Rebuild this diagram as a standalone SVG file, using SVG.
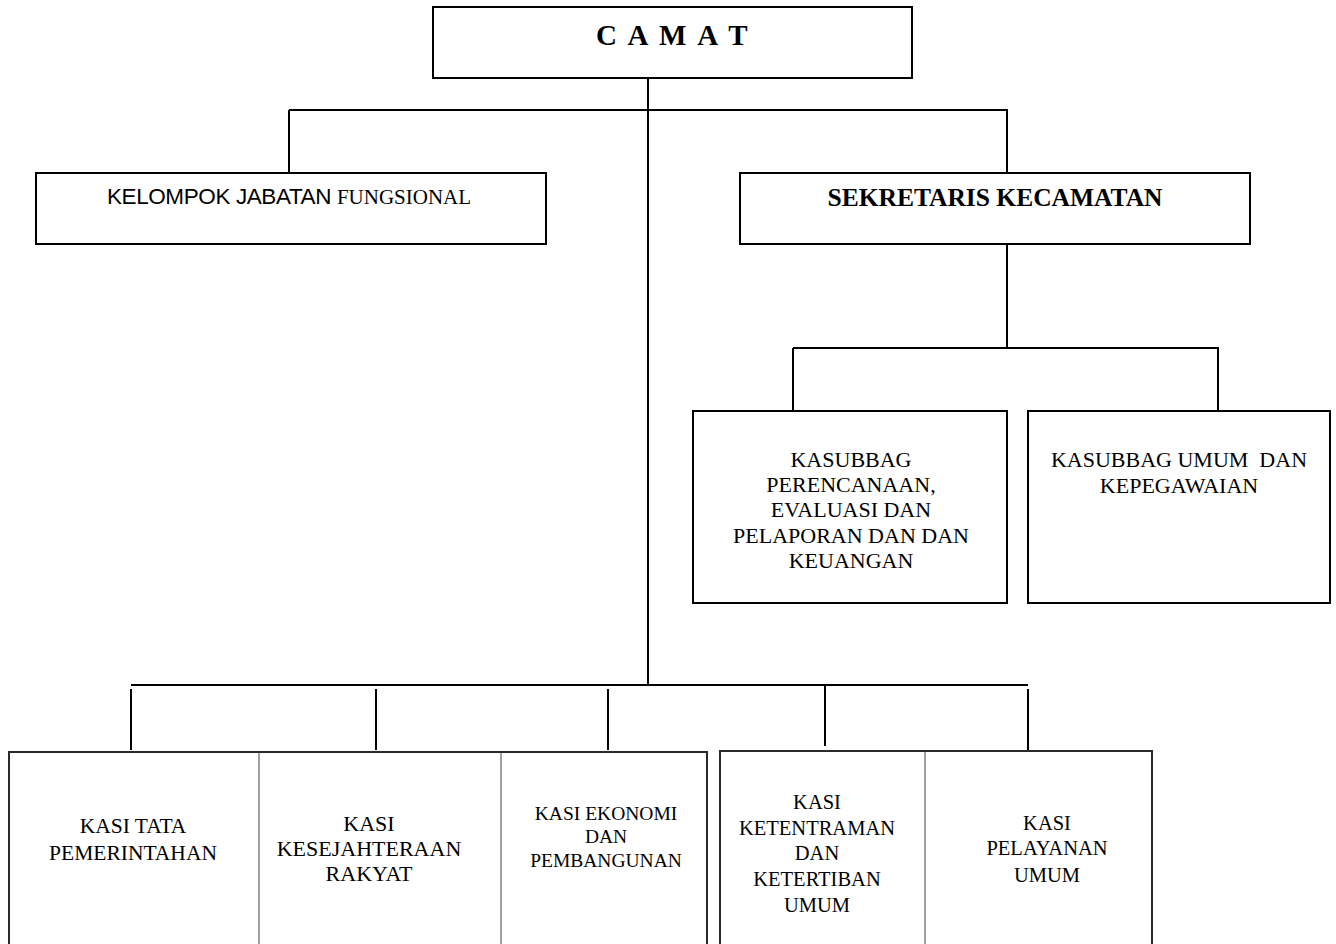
<svg xmlns="http://www.w3.org/2000/svg" width="1336" height="944" viewBox="0 0 1336 944">
<style>
.box{fill:#fff;stroke:#000;stroke-width:2}
.grp{fill:#fff;stroke:#2a2a2a;stroke-width:2}
.div{stroke:#808080;stroke-width:1.5}
.ln{stroke:#000;stroke-width:2;fill:none}
.s{font-family:"Liberation Serif","Times New Roman",serif;font-size:21px;fill:#000;text-anchor:middle}
</style>
<rect width="1336" height="944" fill="#fff"/>
<g id="connectors">
<line class="ln" x1="648" y1="78" x2="648" y2="686"/>
<line class="ln" x1="289" y1="110" x2="1008" y2="110"/>
<line class="ln" x1="289" y1="110" x2="289" y2="173"/>
<line class="ln" x1="1007" y1="110" x2="1007" y2="173"/>
<line class="ln" x1="1007" y1="244" x2="1007" y2="348"/>
<line class="ln" x1="793" y1="348" x2="1219" y2="348"/>
<line class="ln" x1="793" y1="348" x2="793" y2="411"/>
<line class="ln" x1="1218" y1="349" x2="1218" y2="411"/>
<line class="ln" x1="131" y1="685" x2="1028" y2="685"/>
<line class="ln" x1="131" y1="689" x2="131" y2="750"/>
<line class="ln" x1="376" y1="689" x2="376" y2="750"/>
<line class="ln" x1="608" y1="689" x2="608" y2="750"/>
<line class="ln" x1="825" y1="686" x2="825" y2="746"/>
<line class="ln" x1="1028" y1="689" x2="1028" y2="750"/>
</g>
<g id="camat">
<rect class="box" x="433" y="7" width="479" height="71"/>
<text x="673" y="45" font-family="Liberation Serif, serif" font-size="29" font-weight="bold" letter-spacing="2.5" text-anchor="middle">C A M A T</text>
</g>
<g id="kelompok">
<rect class="box" x="36" y="173" width="510" height="71"/>
<text x="289" y="204" text-anchor="middle"><tspan font-family="Liberation Sans, Arial, sans-serif" font-size="22.5" letter-spacing="-0.4">KELOMPOK JABATAN </tspan><tspan font-family="Liberation Serif, serif" font-size="21">FUNGSIONAL</tspan></text>
</g>
<g id="sekretaris">
<rect class="box" x="740" y="173" width="510" height="71"/>
<text x="995" y="206" font-family="Liberation Serif, serif" font-size="25.5" font-weight="bold" text-anchor="middle">SEKRETARIS KECAMATAN</text>
</g>
<g id="kasubbag-perencanaan">
<rect class="box" x="693" y="411" width="314" height="192"/>
<text class="s" style="font-size:22px"><tspan x="851" y="467">KASUBBAG</tspan><tspan x="851" y="492">PERENCANAAN,</tspan><tspan x="851" y="517">EVALUASI DAN</tspan><tspan x="851" y="543">PELAPORAN DAN DAN</tspan><tspan x="851" y="568">KEUANGAN</tspan></text>
</g>
<g id="kasubbag-umum">
<rect class="box" x="1028" y="411" width="302" height="192"/>
<text class="s" style="font-size:22px"><tspan x="1179" y="467">KASUBBAG UMUM&#160; DAN</tspan><tspan x="1179" y="493">KEPEGAWAIAN</tspan></text>
</g>
<g id="kasi-group-left">
<rect class="grp" x="9" y="752" width="698" height="200"/>
<line class="div" x1="259" y1="753" x2="259" y2="944"/>
<line class="div" x1="501" y1="753" x2="501" y2="944"/>
</g>
<g id="kasi-tata">
<text class="s" style="font-size:21.5px"><tspan x="133" y="833">KASI TATA</tspan><tspan x="133" y="860">PEMERINTAHAN</tspan></text>
</g>
<g id="kasi-kesejahteraan">
<text class="s" style="font-size:22px"><tspan x="369" y="831">KASI</tspan><tspan x="369" y="856">KESEJAHTERAAN</tspan><tspan x="369" y="881">RAKYAT</tspan></text>
</g>
<g id="kasi-ekonomi">
<text class="s" style="font-size:19.5px"><tspan x="606" y="820">KASI EKONOMI</tspan><tspan x="606" y="843">DAN</tspan><tspan x="606" y="867">PEMBANGUNAN</tspan></text>
</g>
<g id="kasi-group-right">
<rect class="grp" x="720" y="751" width="432" height="200"/>
<line class="div" x1="925" y1="752" x2="925" y2="944"/>
</g>
<g id="kasi-ketentraman">
<text class="s" style="font-size:20.5px"><tspan x="817" y="809">KASI</tspan><tspan x="817" y="835">KETENTRAMAN</tspan><tspan x="817" y="860">DAN</tspan><tspan x="817" y="886">KETERTIBAN</tspan><tspan x="817" y="912">UMUM</tspan></text>
</g>
<g id="kasi-pelayanan">
<text class="s" style="font-size:20.5px"><tspan x="1047" y="830">KASI</tspan><tspan x="1047" y="855">PELAYANAN</tspan><tspan x="1047" y="882">UMUM</tspan></text>
</g>
</svg>
